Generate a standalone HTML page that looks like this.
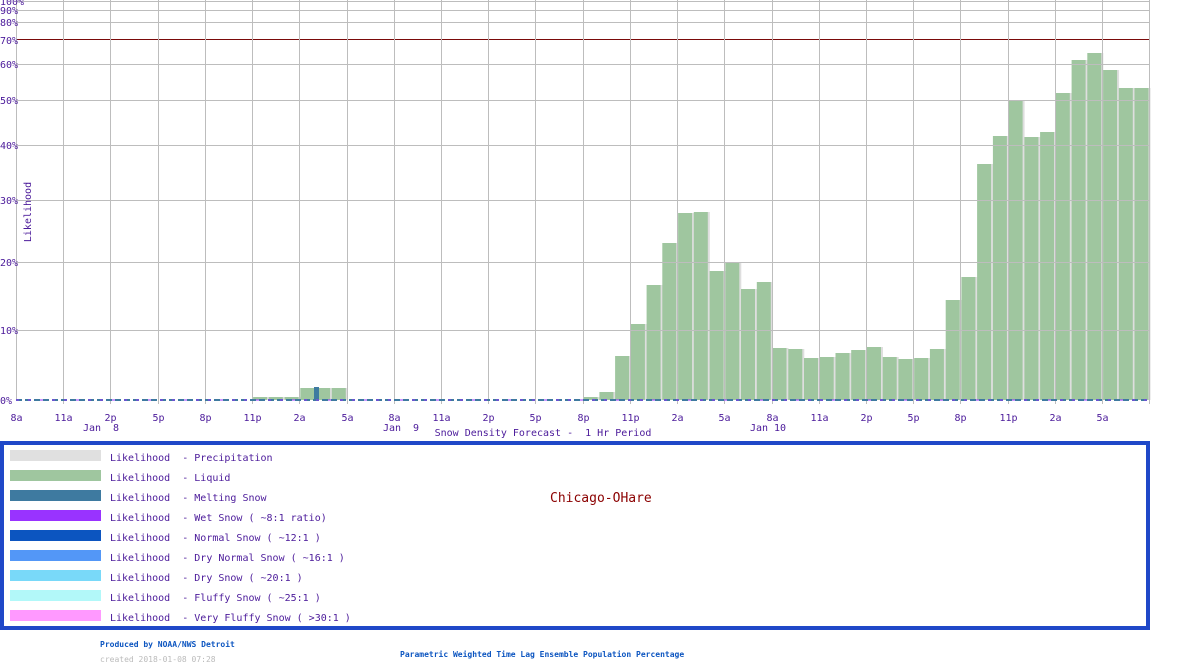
<!DOCTYPE html>
<html><head><meta charset="utf-8"><style>
html,body{margin:0;padding:0;background:#fff;width:1200px;height:670px;overflow:hidden}
svg{display:block}
text{font-family:"DejaVu Sans Mono","Liberation Mono",monospace}
</style></head><body>
<svg id="s" width="1200" height="670" xmlns="http://www.w3.org/2000/svg"></svg>
<script>
const s=document.getElementById('s');let h='';
const X0=16,DX=15.74;
const tops={};
[15,16,17].forEach(i=>tops[i]=397);[18,19,20].forEach(i=>tops[i]=388);
[397,392,356,324,285,243,213,212,271,263,289,282,348,349,358,357,353,350,347,357,359,358,349,300,277,164,136,100,137,132,93,60,53,70,88,88].forEach((v,k)=>tops[36+k]=v);
for(const k in tops){const x=X0+k*DX,t=tops[k];
h+=`<rect x="${(x+2).toFixed(1)}" y="${t}" width="15" height="${400-t}" fill="#dedede"/>`;
h+=`<rect x="${(x+1).toFixed(1)}" y="${t}" width="14" height="${400-t}" fill="#9fc69f"/>`;}
h+=`<rect x="314" y="387" width="5" height="13" fill="#3e7aa0"/>`;
const ys=[[1,'100%'],[10,'90%'],[22,'80%'],[64,'60%'],[100,'50%'],[145,'40%'],[200,'30%'],[262,'20%'],[330,'10%']];
ys.forEach(([y])=>h+=`<line x1="16" x2="1150" y1="${y+.5}" y2="${y+.5}" stroke="#bdbdbd" stroke-width="1"/>`);
h+=`<line x1="16" x2="1150" y1="39.5" y2="39.5" stroke="#7a0a0a" stroke-width="1"/>`;
const xl=['8a','11a','2p','5p','8p','11p','2a','5a'];
for(let i=0;i<=24;i++){const x=Math.round(X0+i*3*DX)+.5;
h+=`<line x1="${x}" x2="${x}" y1="0" y2="${i==0?400:404}" stroke="#bdbdbd"/>`;
if(i<24)h+=`<text x="${x}" y="421" font-size="10" fill="#4b1a9a" text-anchor="middle">${xl[i%8]}</text>`;}
h+=`<line x1="16" x2="1150" y1="400" y2="400" stroke="#3e7aa0" stroke-width="2" stroke-dasharray="6,3"/>`;
h+=`<line x1="16" x2="1150" y1="400" y2="400" stroke="#9933ff" stroke-width="1" stroke-dasharray="3,9"/>`;
ys.concat([[40,'70%'],[400,'0%']]).forEach(([y,l])=>h+=`<text x="0" y="${y+4}" font-size="10" fill="#4b1a9a">${l}</text>`);
h+=`<text x="31" y="212" font-size="10" fill="#4b1a9a" text-anchor="middle" transform="rotate(-90 31 212)">Likelihood</text>`;
h+=`<text x="101" y="431" font-size="10" fill="#4b1a9a" text-anchor="middle" xml:space="preserve">Jan  8</text>`;
h+=`<text x="401" y="431" font-size="10" fill="#4b1a9a" text-anchor="middle" xml:space="preserve">Jan  9</text>`;
h+=`<text x="768" y="431" font-size="10" fill="#4b1a9a" text-anchor="middle">Jan 10</text>`;
h+=`<text x="543" y="436" font-size="10" fill="#4b1a9a" text-anchor="middle" xml:space="preserve">Snow Density Forecast -  1 Hr Period</text>`;
h+=`<rect x="2" y="443" width="1146" height="185" fill="none" stroke="#1f48c8" stroke-width="4"/>`;
const lg=[['#e0e0e0','Precipitation'],['#9fc69f','Liquid'],['#3e7aa0','Melting Snow'],['#9933ff','Wet Snow ( ~8:1 ratio)'],['#0c55c0','Normal Snow ( ~12:1 )'],['#5397f7','Dry Normal Snow ( ~16:1 )'],['#79d9f9','Dry Snow ( ~20:1 )'],['#b2f8f9','Fluffy Snow ( ~25:1 )'],['#ff99ff','Very Fluffy Snow ( &gt;30:1 )']];
lg.forEach(([c,t],i)=>{const y=450+20*i;
h+=`<rect x="10" y="${y}" width="91" height="11" fill="${c}"/>`;
h+=`<text x="110" y="${y+11}" font-size="10" fill="#4b1a9a" xml:space="preserve">Likelihood  - ${t}</text>`;});
h+=`<text x="550" y="502" font-size="13" fill="#8b0000">Chicago-OHare</text>`;
h+=`<text x="100" y="647" font-size="8" font-weight="bold" fill="#0c55c0">Produced by NOAA/NWS Detroit</text>`;
h+=`<text x="100" y="662" font-size="8" fill="#bbbbbb">created 2018-01-08 07:28</text>`;
h+=`<text x="400" y="657" font-size="8" font-weight="bold" fill="#0c55c0">Parametric Weighted Time Lag Ensemble Population Percentage</text>`;
s.innerHTML=h;
</script>
</body></html>
